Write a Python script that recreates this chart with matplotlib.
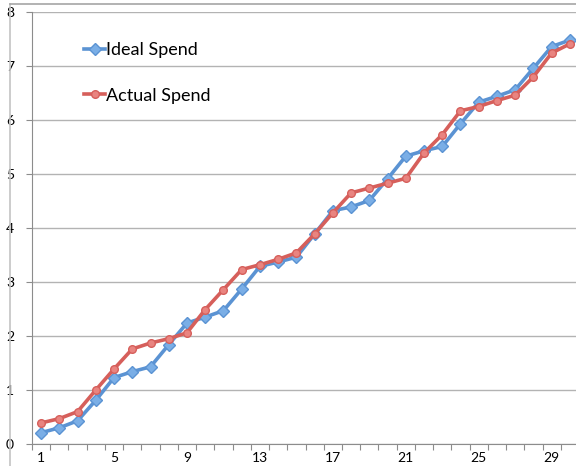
import matplotlib
matplotlib.use("Agg")
import matplotlib.pyplot as plt
from matplotlib.lines import Line2D

plt.rcParams["font.family"] = ["Lato", "DejaVu Sans"]

# dados
days = list(range(1, 31))
ideal_spend = [0.21, 0.30, 0.43, 0.81, 1.23, 1.34, 1.43, 1.84, 2.24, 2.35,
               2.47, 2.87, 3.29, 3.37, 3.46, 3.89, 4.32, 4.39, 4.51, 4.91,
               5.33, 5.43, 5.51, 5.93, 6.33, 6.44, 6.56, 6.96, 7.36, 7.48]
actual_spend = [0.39, 0.47, 0.60, 1.00, 1.39, 1.76, 1.87, 1.95, 2.06, 2.49,
                2.86, 3.23, 3.32, 3.42, 3.54, 3.89, 4.28, 4.65, 4.74, 4.83,
                4.92, 5.39, 5.73, 6.17, 6.25, 6.36, 6.46, 6.80, 7.24, 7.41]
y_ticks = list(range(0, 9))
x_labels = [1, 5, 9, 13, 17, 21, 25, 29]

blue, blue_fill = "#5b93d3", "#7aaee6"
red, red_fill = "#d65f5b", "#e98480"

W, H = 576, 466
fig = plt.figure(figsize=(W / 100, H / 100), dpi=100)
ax = fig.add_axes([32 / W, 22 / H, 547 / W, 432 / H])

ax.plot(days, ideal_spend, color=blue, lw=2.6, marker="D", ms=6.5,
        mfc=blue_fill, mec=blue, mew=1.0, label="Ideal Spend", zorder=3)
ax.plot(days, actual_spend, color=red, lw=2.6, marker="o", ms=5.5,
        mfc=red_fill, mec=red, mew=1.0, label="Actual Spend", zorder=4)

ax.set_xlim(0.5, 30.5)
ax.set_ylim(0, 8)
ax.set_yticks(y_ticks)
ax.set_xticks(x_labels)
ax.set_xticks([d + 0.5 for d in range(0, 31)], minor=True)
ax.tick_params(axis="x", which="major", length=0, labelsize=10, pad=6)
ax.tick_params(axis="x", which="minor", length=4, color="#8c8c8c", width=0.8)
ax.tick_params(axis="y", length=4, color="#8c8c8c", width=0.8,
               labelsize=10, pad=9)

ax.grid(axis="y", color="#b3b3b3", lw=1.0)
ax.set_axisbelow(True)
for side in ("top", "right"):
    ax.spines[side].set_visible(False)
ax.spines["left"].set_color("#8c8c8c")
ax.spines["bottom"].set_color("#8c8c8c")

leg = ax.legend(loc="upper left", bbox_to_anchor=(0.078, 0.951), frameon=False,
                fontsize=13, labelspacing=1.63, handlelength=1.2,
                handletextpad=0.05, borderpad=0)

# moldura do grafico (borda esquerda e superior)
fig.add_artist(Line2D([10 / W, 10 / W], [0, 1 - 4 / H], color="#c4c4c4", lw=1.2))
fig.add_artist(Line2D([10 / W, 1], [1 - 4 / H, 1 - 4 / H], color="#a6a6a6", lw=1.2))

fig.savefig("out.png", dpi=100)
